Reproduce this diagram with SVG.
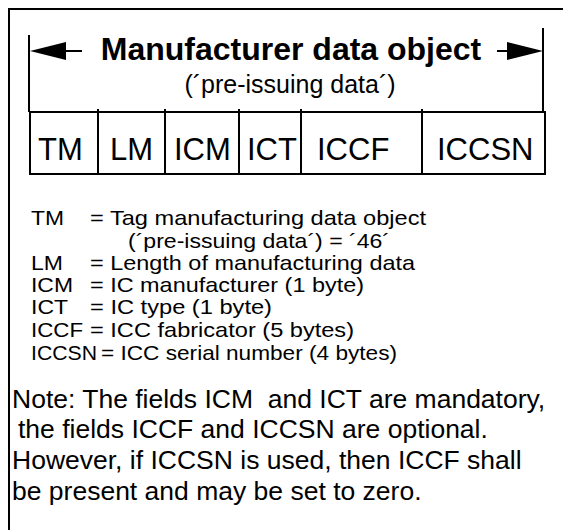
<svg xmlns="http://www.w3.org/2000/svg" width="563" height="530" viewBox="0 0 563 530">
  <style>
    .ln { stroke: #000; stroke-width: 2; fill: none; }
    .txt { font-family: "Liberation Sans", Arial, sans-serif; fill: #000; }
    .title { font-size: 32px; font-weight: bold; }
    .sub { font-size: 25px; }
    .cell { font-size: 31px; }
    .leg { font-size: 21px; }
    .note { font-size: 26.5px; }
  </style>

  <rect width="563" height="530" fill="#fff"/>

  <!-- outer frame (continues past the right and bottom edges) -->
  <rect id="frame" x="9" y="9" width="600" height="600" class="ln"/>

  <!-- header: object span with dimension arrows -->
  <g id="header">
    <line class="ln" x1="29" y1="35" x2="29" y2="112"/>
    <line class="ln" x1="543" y1="28" x2="543" y2="112"/>
    <text class="txt title" x="291" y="60" text-anchor="middle">Manufacturer data object</text>
    <text class="txt sub" x="290" y="93" text-anchor="middle">(´pre-issuing data´)</text>
  </g>

  <g id="connectors">
    <line class="ln" x1="66" y1="51" x2="82" y2="51"/>
    <polygon points="30,51 66,42 66,60" fill="#000"/>
    <line class="ln" x1="497" y1="51" x2="507" y2="51"/>
    <polygon points="543,51 507,42 507,60" fill="#000"/>
  </g>

  <!-- field row -->
  <g id="fields">
    <rect class="ln" x="30" y="112" width="515" height="62"/>
    <line class="ln" x1="98" y1="109" x2="98" y2="174"/>
    <line class="ln" x1="165" y1="109" x2="165" y2="174"/>
    <line class="ln" x1="239" y1="109" x2="239" y2="174"/>
    <line class="ln" x1="301" y1="109" x2="301" y2="174"/>
    <line class="ln" x1="422" y1="109" x2="422" y2="174"/>
  </g>
  <g id="f-TM"><text class="txt cell" x="38" y="160">TM</text></g>
  <g id="f-LM"><text class="txt cell" x="110" y="160">LM</text></g>
  <g id="f-ICM"><text class="txt cell" x="174" y="160">ICM</text></g>
  <g id="f-ICT"><text class="txt cell" x="247" y="160">ICT</text></g>
  <g id="f-ICCF"><text class="txt cell" x="317" y="160">ICCF</text></g>
  <g id="f-ICCSN"><text class="txt cell" x="437" y="160">ICCSN</text></g>

  <!-- legend: abbreviations and their meanings -->
  <g id="legend" class="txt leg">
    <text x="31" y="225" textLength="33" lengthAdjust="spacingAndGlyphs">TM</text>
    <text x="90" y="225" textLength="336" lengthAdjust="spacingAndGlyphs">= Tag manufacturing data object</text>
    <text x="128" y="248" textLength="262" lengthAdjust="spacingAndGlyphs">(´pre-issuing data´) = ´46´</text>
    <text x="31" y="270" textLength="32" lengthAdjust="spacingAndGlyphs">LM</text>
    <text x="90" y="270" textLength="325" lengthAdjust="spacingAndGlyphs">= Length of manufacturing data</text>
    <text x="31" y="292" textLength="42" lengthAdjust="spacingAndGlyphs">ICM</text>
    <text x="90" y="292" textLength="274" lengthAdjust="spacingAndGlyphs">= IC manufacturer (1 byte)</text>
    <text x="31" y="314" textLength="37" lengthAdjust="spacingAndGlyphs">ICT</text>
    <text x="90" y="314" textLength="182" lengthAdjust="spacingAndGlyphs">= IC type (1 byte)</text>
    <text x="31" y="337" textLength="52" lengthAdjust="spacingAndGlyphs">ICCF</text>
    <text x="90" y="337" textLength="264" lengthAdjust="spacingAndGlyphs">= ICC fabricator (5 bytes)</text>
    <text x="31" y="360" textLength="66" lengthAdjust="spacingAndGlyphs">ICCSN</text>
    <text x="101" y="360" textLength="296" lengthAdjust="spacingAndGlyphs">= ICC serial number (4 bytes)</text>
  </g>

  <!-- note -->
  <g id="note" class="txt note">
    <text x="12" y="408" xml:space="preserve">Note: The fields ICM  and ICT are mandatory,</text>
    <text x="18" y="438">the fields ICCF and ICCSN are optional.</text>
    <text x="12" y="469">However, if ICCSN is used, then ICCF shall</text>
    <text x="12" y="500">be present and may be set to zero.</text>
  </g>
</svg>
